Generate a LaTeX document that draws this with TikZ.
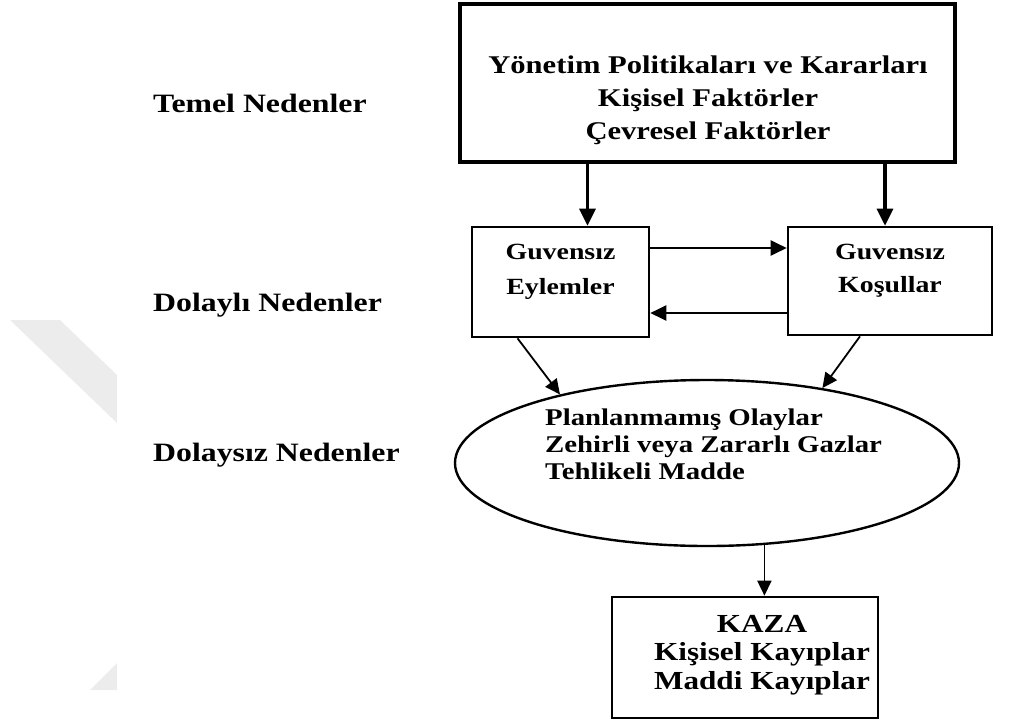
\documentclass[tikz,border=0pt]{standalone}
\usepackage{fontspec}
\setmainfont{Liberation Serif}[FakeStretch=1.2]
\usetikzlibrary{shapes.geometric,arrows.meta}
\begin{document}
\begin{tikzpicture}[x=1pt,y=-1pt,
  box/.style={draw, line width=2.6pt, inner sep=0pt},
  txt/.style={inner sep=0pt, align=center},
  arr/.style={-{Triangle[length=16pt,width=15pt]}, line width=2.2pt},
  thickarr/.style={-{Triangle[length=17pt,width=16pt]}, line width=3.2pt},
  thinarr/.style={-{Triangle[length=15pt,width=14pt]}, line width=1.8pt},
  lbl/.style={anchor=west, inner sep=0pt, font=\fontsize{26.5}{30}\selectfont\bfseries},
]
\path[use as bounding box] (0,0) rectangle (1009,724);
% watermark
\fill[gray!15] (10,320) -- (60,320) -- (117,375) -- (117,423) -- cycle;
\fill[gray!15] (117,663) -- (117,690) -- (90,690) -- cycle;

% level labels
\node[lbl] (l1) at (153,103) {Temel Nedenler};
\node[lbl] (l2) at (153,305) {Dolaylı Nedenler};
\node[lbl] (l3) at (153,455) {Dolaysız Nedenler};

% top box
\node[box, line width=3.2pt, minimum width=495, minimum height=158] (top) at (707.5,83) {};
\node[txt, font=\fontsize{25.5}{33}\selectfont\bfseries] (toptext) at (708,100)
  {Yönetim Politikaları ve Kararları\\Kişisel Faktörler\\Çevresel Faktörler};

% middle boxes
\node[box, minimum width=177, minimum height=110] (a) at (560.5,282) {};
\node[txt, font=\fontsize{23.2}{35}\selectfont\bfseries] (atext) at (560.5,272) {Guvensız\\Eylemler};
\node[box, minimum width=204, minimum height=108] (b) at (890,281) {};
\node[txt, font=\fontsize{23.2}{33}\selectfont\bfseries] (btext) at (890,271) {Guvensız\\Koşullar};

% ellipse
\node[draw, ellipse, line width=2.4pt, minimum width=504, minimum height=166, inner sep=0pt] (ell) at (707,463) {};
\node[inner sep=0pt, anchor=west, align=left, font=\fontsize{24}{27}\selectfont\bfseries] (elltext) at (545,444)
  {Planlanmamış Olaylar\\Zehirli veya Zararlı Gazlar\\Tehlikeli Madde};

% bottom box
\node[box, minimum width=266, minimum height=121] (kaza) at (745,657.5) {};
\node[txt, font=\fontsize{26}{28.5}\selectfont\bfseries] (kazatext) at (762,655)
  {KAZA\\Kişisel Kayıplar\\Maddi Kayıplar};

% connectors
\draw[thickarr] ([xshift=27pt]a.north |- top.south) -- ([xshift=27pt]a.north);
\draw[thickarr] ([xshift=-5pt]b.north |- top.south) -- ([xshift=-5pt]b.north);
\draw[arr] ([yshift=34pt]a.east) -- ([yshift=34pt]a.east -| b.west);
\draw[arr] ([yshift=-32pt]b.west) -- ([yshift=-32pt]b.west -| a.east);
\draw[thinarr] ([xshift=-43pt]a.south) -- (ell.155);
\draw[thinarr] ([xshift=-30pt]b.south) -- (ell.33);
\draw[thinarr] (ell.-55) -- (ell.-55 |- kaza.north);
\end{tikzpicture}
\end{document}
